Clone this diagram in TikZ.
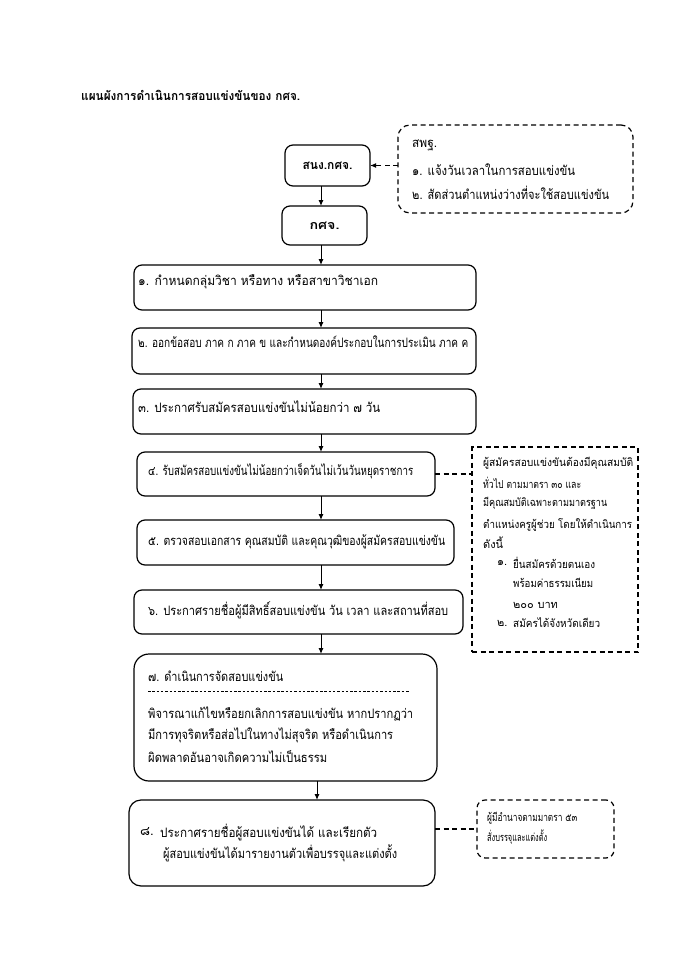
\documentclass[tikz,border=0pt]{standalone}
\usepackage{fontspec}
\usepackage{graphicx}
\setmainfont[Script=Thai]{Loma}
\usetikzlibrary{arrows.meta,calc}
\newcommand{\fw}[2]{\resizebox{#1}{\height}{#2}}
\tikzset{
  box/.style={draw, line width=1.2pt, rounded corners=8pt, inner sep=0pt, outer sep=0pt, anchor=north west},
  dbox/.style={draw, line width=1.2pt, dash pattern=on 5pt off 3.5pt, inner sep=0pt, outer sep=0pt, anchor=north west},
  txt/.style={anchor=west, inner sep=0pt, font=\fontsize{13}{15}\selectfont},
  stxt/.style={anchor=west, inner sep=0pt, font=\fontsize{11}{13}\selectfont},
  btxt/.style={inner sep=0pt, font=\fontsize{12.5}{15}\selectfont\bfseries},
  arr/.style={line width=1pt, -{Latex[length=6pt,width=5pt]}},
  darr/.style={line width=1.2pt, dash pattern=on 5pt off 3.5pt},
}
\begin{document}
\begin{tikzpicture}[x=1pt,y=-1pt]
\useasboundingbox (0,0) rectangle (678,960);
% title
\node[btxt, anchor=west] (title) at (81,95) {\fw{219pt}{แผนผังการดำเนินการสอบแข่งขันของ กศจ.}};
% main boxes
\node[box, minimum width=85pt, minimum height=41pt] (sn) at (285,145) {};
\node[btxt] (snt) at (sn.center) {\fw{50pt}{สนง.กศจ.}};
\node[box, minimum width=85pt, minimum height=39pt] (ks) at (282,206) {};
\node[btxt] (kst) at (ks.center) {\fw{30pt}{กศจ.}};
\node[box, minimum width=342pt, minimum height=45pt] (b1) at (134,265) {};
\node[txt] (t1) at (138,282) {\fw{240pt}{๑. กำหนดกลุ่มวิชา หรือทาง หรือสาขาวิชาเอก}};
\node[box, minimum width=344pt, minimum height=46pt] (b2) at (132,328) {};
\node[txt] (t2) at (138,342) {\fw{330pt}{๒. ออกข้อสอบ ภาค ก ภาค ข และกำหนดองค์ประกอบในการประเมิน ภาค ค}};
\node[box, minimum width=343pt, minimum height=45pt] (b3) at (133,389) {};
\node[txt] (t3) at (138,407) {\fw{242pt}{๓. ประกาศรับสมัครสอบแข่งขันไม่น้อยกว่า ๗ วัน}};
\node[box, minimum width=298pt, minimum height=44pt] (b4) at (137,452) {};
\node[txt] (t4) at (148,471) {\fw{265pt}{๔. รับสมัครสอบแข่งขันไม่น้อยกว่าเจ็ดวันไม่เว้นวันหยุดราชการ}};
\node[box, minimum width=317pt, minimum height=45pt] (b5) at (137,520) {};
\node[txt] (t5) at (148,542) {\fw{297pt}{๕. ตรวจสอบเอกสาร คุณสมบัติ และคุณวุฒิของผู้สมัครสอบแข่งขัน}};
\node[box, minimum width=329pt, minimum height=44pt] (b6) at (134,590) {};
\node[txt] (t6) at (148,610) {\fw{300pt}{๖. ประกาศรายชื่อผู้มีสิทธิ์สอบแข่งขัน วัน เวลา และสถานที่สอบ}};
\node[box, rounded corners=15pt, minimum width=303pt, minimum height=127pt] (b7) at (134,654) {};
\node[txt] (t7a) at (148,676) {\fw{135pt}{๗. ดำเนินการจัดสอบแข่งขัน}};
\draw[line width=0.5pt, dash pattern=on 2.5pt off 1.8pt] (148,691) -- (410,691);
\node[txt] (t7b) at (148,714) {\fw{265pt}{พิจารณาแก้ไขหรือยกเลิกการสอบแข่งขัน หากปรากฏว่า}};
\node[txt] (t7c) at (148,735) {\fw{245pt}{มีการทุจริตหรือส่อไปในทางไม่สุจริต หรือดำเนินการ}};
\node[txt] (t7d) at (148,757) {\fw{179pt}{ผิดพลาดอันอาจเกิดความไม่เป็นธรรม}};
\node[box, rounded corners=12pt, minimum width=306pt, minimum height=86pt] (b8) at (129,800) {};
\node[txt] (t8n) at (140,832) {๘.};
\node[txt] (t8a) at (160,832) {\fw{217pt}{ประกาศรายชื่อผู้สอบแข่งขันได้ และเรียกตัว}};
\node[txt] (t8b) at (163,853) {\fw{234pt}{ผู้สอบแข่งขันได้มารายงานตัวเพื่อบรรจุและแต่งตั้ง}};
% dashed boxes
\node[dbox, rounded corners=12pt, minimum width=235pt, minimum height=88pt] (d1) at (398,125) {};
\node[txt] (d1a) at (412,145) {\fw{25pt}{สพฐ.}};
\node[txt] (d1b) at (412,170) {\fw{163pt}{๑. แจ้งวันเวลาในการสอบแข่งขัน}};
\node[txt] (d1c) at (412,193) {\fw{197pt}{๒. สัดส่วนตำแหน่งว่างที่จะใช้สอบแข่งขัน}};
\node[dbox, minimum width=166pt, minimum height=205pt] (d2) at (472,447) {};
\node[stxt] (d2a) at (483,463) {\fw{150pt}{ผู้สมัครสอบแข่งขันต้องมีคุณสมบัติ}};
\node[stxt] (d2b) at (483,483) {\fw{98pt}{ทั่วไป ตามมาตรา ๓๐ และ}};
\node[stxt] (d2c) at (483,503) {\fw{124pt}{มีคุณสมบัติเฉพาะตามมาตรฐาน}};
\node[stxt] (d2d) at (483,525) {\fw{149pt}{ตำแหน่งครูผู้ช่วย โดยให้ดำเนินการ}};
\node[stxt] (d2e) at (483,543) {ดังนี้};
\node[stxt] (d2f) at (497,563) {๑.};
\node[stxt] (d2g) at (513,563) {\fw{82pt}{ยื่นสมัครด้วยตนเอง}};
\node[stxt] (d2h) at (513,583) {\fw{80pt}{พร้อมค่าธรรมเนียม}};
\node[stxt] (d2i) at (513,605) {๒๐๐ บาท};
\node[stxt] (d2j) at (497,623) {๒.};
\node[stxt] (d2k) at (513,623) {\fw{87pt}{สมัครได้จังหวัดเดียว}};
\node[dbox, rounded corners=8pt, minimum width=137pt, minimum height=58pt] (d3) at (477,800) {};
\node[stxt] (d3a) at (487,818) {\fw{90pt}{ผู้มีอำนาจตามมาตรา ๕๓}};
\node[stxt] (d3b) at (487,837) {\fw{60pt}{สั่งบรรจุและแต่งตั้ง}};
% connectors
\coordinate (ax) at (321,0);
\coordinate (ay) at (317,0);
\draw[arr] (sn.south -| ax) -- (ks.north -| ax);
\draw[arr] (ks.south -| ax) -- (b1.north -| ax);
\draw[arr] (b1.south -| ax) -- (b2.north -| ax);
\draw[arr] (b2.south -| ax) -- (b3.north -| ax);
\draw[arr] (b3.south -| ax) -- (b4.north -| ax);
\draw[arr] (b4.south -| ax) -- (b5.north -| ax);
\draw[arr] (b5.south -| ax) -- (b6.north -| ax);
\draw[arr] (b6.south -| ax) -- (b7.north -| ax);
\draw[arr] (b7.south -| ay) -- (b8.north -| ay);
\draw[darr, -{Latex[length=6pt,width=5pt]}] (d1.west |- sn.east) -- (sn.east);
\draw[darr] (b4.east) -- (b4.east -| d2.west);
\draw[darr] (d3.west -| b8.east) -- (d3.west);
\end{tikzpicture}
\end{document}
